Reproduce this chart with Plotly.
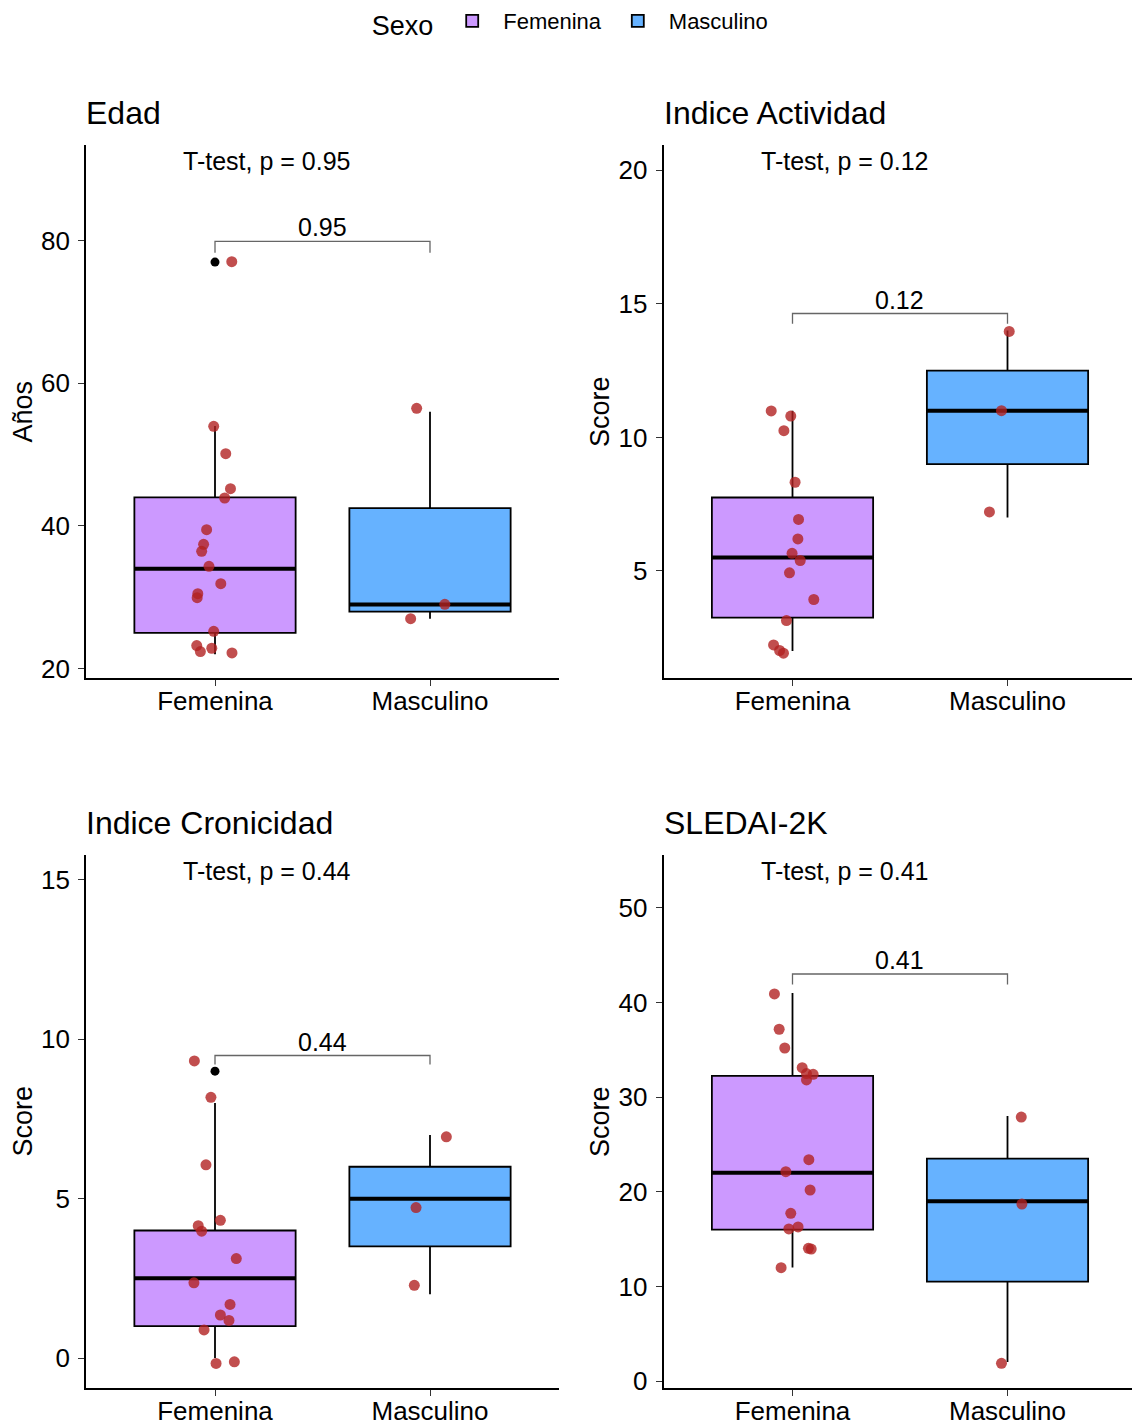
import numpy as np
import plotly.graph_objects as go

# ---------------- data ----------------
groups = ["Femenina", "Masculino"]

edad_fem = [77, 54, 50, 45, 44, 39, 37, 36, 34, 32, 31, 30, 25, 23, 23, 22, 22]
edad_fem_jx = [0.078, -0.006, 0.05, 0.072, 0.045, -0.039, -0.053, -0.062, -0.028, 0.027, -0.08, -0.083, -0.006, -0.085, -0.015, -0.068, 0.079]
edad_fem_jy = [0.06, -0.03, 0.14, 0.23, -0.08, 0.48, 0.43, 0.45, 0.34, -0.09, -0.49, -0.05, 0.23, 0.22, -0.15, 0.38, 0.2]
edad_mas = [56, 29, 27]
edad_mas_jx = [-0.062, 0.069, -0.09]
edad_mas_jy = [0.49, 0.01, 0.0]

act_fem = [11, 11, 10, 8, 7, 6, 6, 5, 5, 4, 3, 2, 2, 2]
act_fem_jx = [-0.099, -0.008, -0.04, 0.012, 0.028, 0.025, -0.002, 0.036, -0.014, 0.099, -0.028, -0.088, -0.06, -0.042]
act_fem_jy = [-0.01, -0.2, 0.25, 0.32, -0.07, 0.2, -0.34, 0.39, -0.07, -0.07, 0.14, 0.23, 0.02, -0.08]
act_mas = [14, 11, 7]
act_mas_jx = [0.008, -0.028, -0.084]
act_mas_jy = [-0.03, 0.0, 0.21]

cron_fem = [9, 8, 6, 4, 4, 4, 3, 2, 2, 1, 1, 1, 0, 0]
cron_fem_jx = [-0.096, -0.019, -0.042, 0.025, -0.078, -0.062, 0.099, -0.098, 0.07, 0.025, 0.065, -0.051, 0.005, 0.09]
cron_fem_jy = [0.32, 0.18, 0.06, 0.32, 0.15, -0.02, 0.12, 0.36, -0.32, 0.35, 0.18, -0.12, -0.17, -0.12]
cron_mas = [7, 5, 2]
cron_mas_jx = [0.076, -0.065, -0.073]
cron_mas_jy = [-0.06, -0.28, 0.28]

sled_fem = [41, 37, 35, 33, 32, 32, 32, 22, 22, 20, 18, 16, 16, 14, 14, 12]
sled_fem_jx = [-0.084, -0.062, -0.036, 0.045, 0.065, 0.096, 0.065, 0.076, -0.031, 0.082, -0.008, 0.026, -0.017, 0.074, 0.087, -0.053]
sled_fem_jy = [-0.09, 0.18, 0.2, 0.12, 0.5, 0.42, -0.18, 1.4, 0.13, 0.19, -0.27, 0.28, 0.07, 0.03, -0.05, -0.02]
sled_mas = [28, 19, 2]
sled_mas_jx = [0.064, 0.067, -0.028]
sled_mas_jy = [-0.1, -0.3, -0.13]

titles = ["Edad", "Indice Actividad", "Indice Cronicidad", "SLEDAI-2K"]
ytitles = ["Años", "Score", "Score", "Score"]
pvals = ["0.95", "0.12", "0.44", "0.41"]
yticks = [[20, 40, 60, 80], [5, 10, 15, 20], [0, 5, 10, 15], [0, 10, 20, 30, 40, 50]]

# ---------------- layout geometry ----------------
W, H = 1132, 1426
FONT = "Liberation Sans, Arial, sans-serif"
fill_cols = ["#CC99FF", "#66B2FF"]
pt_col = "rgba(178,34,34,0.8)"

panels = [
    dict(fem=(edad_fem, edad_fem_jx, edad_fem_jy), mas=(edad_mas, edad_mas_jx, edad_mas_jy),
         px=(86, 559), py=(145, 678), yrange=[18.68, 93.42], by=79.9, tip=1.6),
    dict(fem=(act_fem, act_fem_jx, act_fem_jy), mas=(act_mas, act_mas_jx, act_mas_jy),
         px=(663.5, 1132), py=(145, 678), yrange=[0.99, 20.95], by=14.64, tip=0.38),
    dict(fem=(cron_fem, cron_fem_jx, cron_fem_jy), mas=(cron_mas, cron_mas_jx, cron_mas_jy),
         px=(86, 559), py=(855, 1388), yrange=[-0.94, 15.78], by=9.49, tip=0.28),
    dict(fem=(sled_fem, sled_fem_jx, sled_fem_jy), mas=(sled_mas, sled_mas_jx, sled_mas_jy),
         px=(663.5, 1132), py=(855, 1388), yrange=[-0.74, 55.6], by=43.02, tip=1.1),
]

PX_PER_UNIT = 215.0


def stats(v):
    v = np.asarray(v, dtype=float)
    q1, med, q3 = np.percentile(v, [25, 50, 75])
    iqr = q3 - q1
    lo_lim, hi_lim = q1 - 1.5 * iqr, q3 + 1.5 * iqr
    inside = v[(v >= lo_lim) & (v <= hi_lim)]
    out = v[(v < lo_lim) | (v > hi_lim)]
    return q1, med, q3, inside.min(), inside.max(), out


fig = go.Figure()
annotations = []
layout_axes = {}

for i, p in enumerate(panels):
    sfx = "" if i == 0 else str(i + 1)
    xa, ya = "x" + sfx, "y" + sfx
    x0, x1 = p["px"]
    y0, y1 = p["py"]
    xr = [0.4, 0.4 + (x1 - x0) / PX_PER_UNIT]
    layout_axes["xaxis" + sfx] = dict(
        domain=[x0 / W, x1 / W], range=xr, anchor=ya, automargin=False,
        tickvals=[1, 2], ticktext=groups,
        showline=True, linecolor="black", linewidth=1.6,
        ticks="outside", ticklen=6, tickwidth=1.4, tickcolor="#333",
        showgrid=False, zeroline=False, ticklabelstandoff=-7,
        tickfont=dict(size=26, color="black", family=FONT), fixedrange=True)
    layout_axes["yaxis" + sfx] = dict(
        domain=[1 - y1 / H, 1 - y0 / H], range=p["yrange"], anchor=xa, automargin=False,
        tickvals=yticks[i],
        showline=True, linecolor="black", linewidth=1.6,
        ticks="outside", ticklen=6, tickwidth=1.4, tickcolor="#333",
        showgrid=False, zeroline=False, ticklabelstandoff=3,
        tickfont=dict(size=26, color="black", family=FONT), fixedrange=True)

    for gi, key in enumerate(["fem", "mas"]):
        vals, jx, jy = p[key]
        c = gi + 1
        q1, med, q3, lo, hi, out = stats(vals)
        fig.add_trace(go.Box(
            x=[c], q1=[q1], median=[med], q3=[q3], lowerfence=[lo], upperfence=[hi],
            width=0.75, whiskerwidth=0, boxpoints=False,
            fillcolor=fill_cols[gi], line=dict(color="black", width=1.8),
            name=groups[gi], legendgroup=groups[gi], showlegend=(i == 0),
            xaxis=xa, yaxis=ya, hoverinfo="skip"))
        # thick median line
        fig.add_trace(go.Scatter(
            x=[c - 0.375, c + 0.375], y=[med, med], mode="lines",
            line=dict(color="black", width=4), showlegend=False,
            xaxis=xa, yaxis=ya, hoverinfo="skip"))
        # outliers
        if len(out):
            fig.add_trace(go.Scatter(
                x=[c] * len(out), y=list(out), mode="markers",
                marker=dict(color="black", size=9), showlegend=False,
                xaxis=xa, yaxis=ya, hoverinfo="skip"))
        # jittered points
        fig.add_trace(go.Scatter(
            x=[c + d for d in jx], y=[v + d for v, d in zip(vals, jy)], mode="markers",
            marker=dict(color=pt_col, size=11, line=dict(width=0)), showlegend=False,
            xaxis=xa, yaxis=ya, hoverinfo="skip"))

    # bracket
    by, tip = p["by"], p["tip"]
    fig.add_trace(go.Scatter(
        x=[1, 1, 2, 2], y=[by - tip, by, by, by - tip], mode="lines",
        line=dict(color="#666666", width=1.3), showlegend=False,
        xaxis=xa, yaxis=ya, hoverinfo="skip"))
    annotations.append(dict(
        x=1.5, y=by, xref=xa, yref=ya, text=pvals[i], showarrow=False,
        yanchor="bottom", yshift=-2, font=dict(size=25, color="black", family=FONT)))
    # t-test text
    annotations.append(dict(
        x=0.842, y=1 - 16 / (y1 - y0), xref=xa, yref=ya + " domain",
        text="T-test, p = " + pvals[i], showarrow=False,
        xanchor="left", yanchor="middle", font=dict(size=25, color="black", family=FONT)))
    # panel title
    annotations.append(dict(
        x=(x0 - 2) / W, y=1 - (y0 - 32) / H, xref="paper", yref="paper",
        text=titles[i], showarrow=False, xanchor="left", yanchor="middle",
        font=dict(size=32, color="black", family=FONT)))
    # y title
    annotations.append(dict(
        x=(x0 - 64) / W, y=1 - ((y0 + y1) / 2) / H, xref="paper", yref="paper",
        text=ytitles[i], showarrow=False, textangle=-90,
        xanchor="center", yanchor="middle",
        font=dict(size=27, color="black", family=FONT)))

fig.update_layout(
    width=W, height=H,
    margin=dict(l=0, r=0, t=0, b=0),
    paper_bgcolor="white", plot_bgcolor="white",
    font=dict(family=FONT, color="black"),
    showlegend=True,
    legend=dict(
        orientation="h", x=0.505, xanchor="center", y=1.0, yanchor="top",
        title=dict(text="Sexo", font=dict(size=27, family=FONT), side="left"),
        font=dict(size=22, family=FONT), itemwidth=52, bgcolor="rgba(0,0,0,0)"),
    annotations=annotations,
    **layout_axes,
)

fig.write_html("out.html", config={"displayModeBar": False},
               post_script="document.body.style.margin='0';document.body.style.overflow='hidden';")
